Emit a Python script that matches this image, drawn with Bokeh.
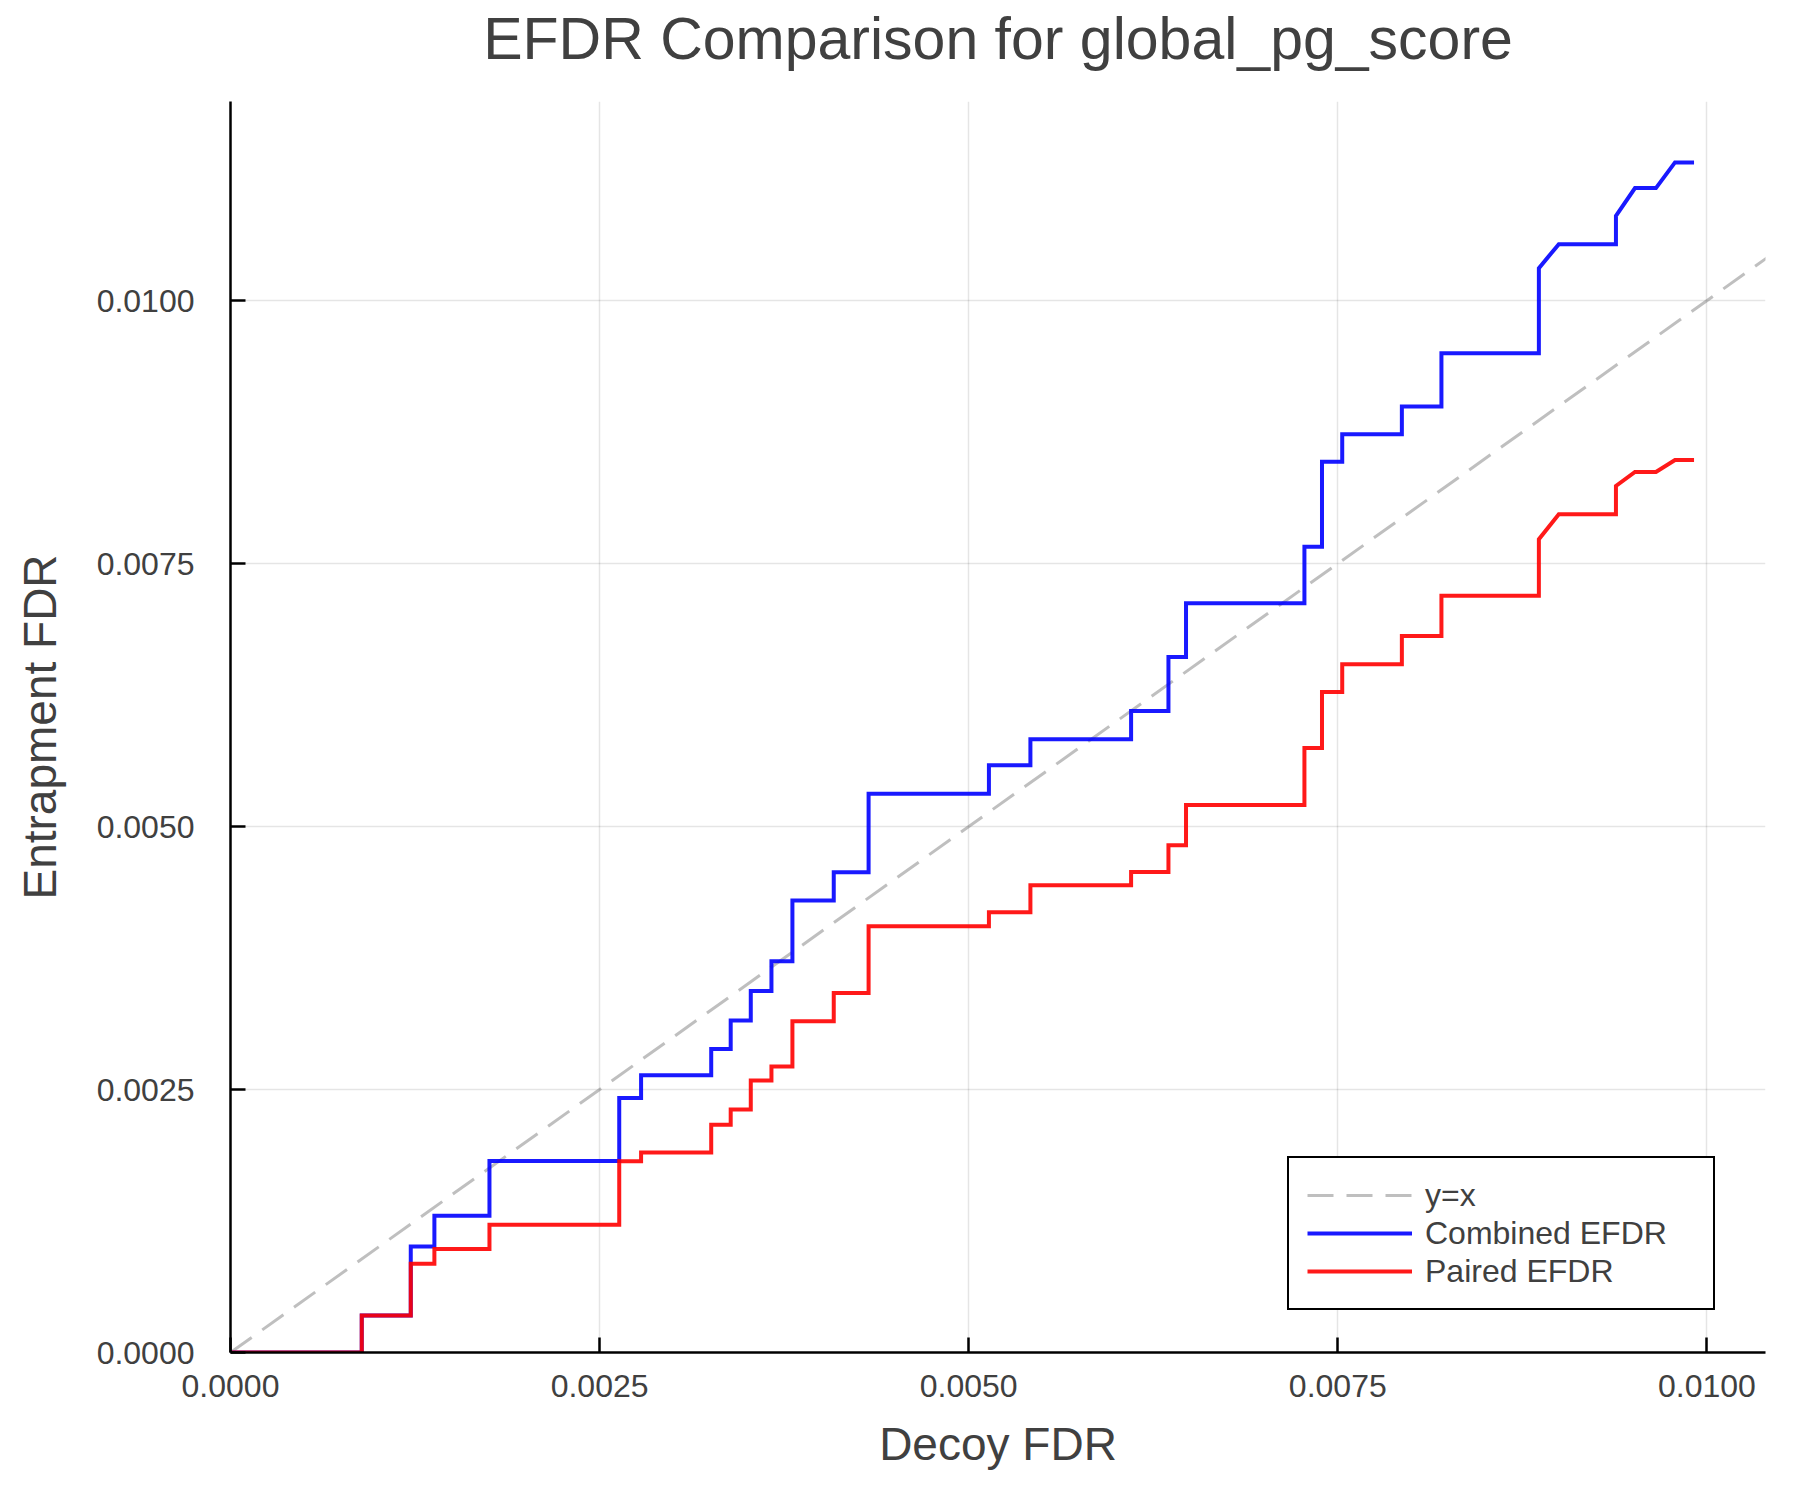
from bokeh.plotting import figure
from bokeh.models import Range1d, FixedTicker, LinearAxis
from bokeh.embed import file_html
from bokeh.resources import INLINE

# ---- data ----
decoy_fdr = [0.0, 0.000889, 0.000889, 0.001221, 0.001221, 0.001381, 0.001381, 0.001754, 0.001754,
             0.002633, 0.002633, 0.002781, 0.002781, 0.003256, 0.003256, 0.003388, 0.003388,
             0.003524, 0.003524, 0.003664, 0.003664, 0.003806, 0.003806, 0.004086, 0.004086,
             0.004322, 0.004322, 0.005137, 0.005137, 0.005418, 0.005418, 0.006100, 0.006100,
             0.006353, 0.006353, 0.006472, 0.006472, 0.007274, 0.007274, 0.007393, 0.007393,
             0.007530, 0.007530, 0.007934, 0.007934, 0.008202, 0.008202, 0.008862, 0.008862,
             0.008997, 0.009384, 0.009384, 0.009513, 0.009655, 0.009784, 0.009913]
combined_efdr = [0.0, 0.0, 0.000352, 0.000352, 0.001008, 0.001008, 0.001300, 0.001300, 0.001820,
                 0.001820, 0.002419, 0.002419, 0.002635, 0.002635, 0.002885, 0.002885, 0.003157,
                 0.003157, 0.003437, 0.003437, 0.003720, 0.003720, 0.004297, 0.004297, 0.004566,
                 0.004566, 0.005311, 0.005311, 0.005582, 0.005582, 0.005831, 0.005831, 0.006098,
                 0.006098, 0.006611, 0.006611, 0.007122, 0.007122, 0.007661, 0.007661, 0.008469,
                 0.008469, 0.008730, 0.008730, 0.008993, 0.008993, 0.009500, 0.009500, 0.010309,
                 0.010537, 0.010537, 0.010806, 0.011070, 0.011070, 0.011314, 0.011314]
paired_efdr = [0.0, 0.0, 0.000352, 0.000352, 0.000844, 0.000844, 0.000983, 0.000983, 0.001215,
               0.001215, 0.001817, 0.001817, 0.001902, 0.001902, 0.002166, 0.002166, 0.002309,
               0.002309, 0.002587, 0.002587, 0.002720, 0.002720, 0.003149, 0.003149, 0.003418,
               0.003418, 0.004053, 0.004053, 0.004186, 0.004186, 0.004442, 0.004442, 0.004569,
               0.004569, 0.004823, 0.004823, 0.005204, 0.005204, 0.005746, 0.005746, 0.006279,
               0.006279, 0.006542, 0.006542, 0.006811, 0.006811, 0.007195, 0.007195, 0.007731,
               0.007969, 0.007969, 0.008238, 0.008371, 0.008371, 0.008485, 0.008485]
identity_line = [0.0, 0.012]

x_ticks = [0.0, 0.0025, 0.005, 0.0075, 0.01]
x_tick_labels = ["0.0000", "0.0025", "0.0050", "0.0075", "0.0100"]
y_ticks = [0.0, 0.0025, 0.005, 0.0075, 0.01]
y_tick_labels = ["0.0000", "0.0025", "0.0050", "0.0075", "0.0100"]

title_text = "EFDR Comparison for global_pg_score"
x_label = "Decoy FDR"
y_label = "Entrapment FDR"

FONT = "Liberation Sans"
TXT = "#404040"

p = figure(
    x_range=Range1d(0.0, 0.010397), y_range=Range1d(0.0, 0.011893),
    frame_width=1535, frame_height=1251,
    min_border_left=230, min_border_right=15, min_border_top=101, min_border_bottom=130,
    output_backend="svg", toolbar_location=None,
)
p.outline_line_color = None
p.background_fill_color = "white"
p.border_fill_color = "white"

xax = p.below[0]
yax = p.left[0]

for ax, ticks, labels, lab in ((xax, x_ticks, x_tick_labels, x_label),
                               (yax, y_ticks, y_tick_labels, y_label)):
    ax.ticker = FixedTicker(ticks=ticks)
    ax.major_label_overrides = {t: l for t, l in zip(ticks, labels)}
    ax.axis_label = lab
    ax.axis_label_text_font = FONT
    ax.axis_label_text_font_size = "46px"
    ax.axis_label_text_font_style = "normal"
    ax.axis_label_text_color = TXT
    ax.major_label_text_font = FONT
    ax.major_label_text_font_size = "32px"
    ax.major_label_text_color = TXT
    ax.axis_line_color = "black"
    ax.axis_line_width = 2.5
    ax.major_tick_line_color = "black"
    ax.major_tick_line_width = 2.5
    ax.major_tick_in = 15
    ax.major_tick_out = 0
    ax.minor_tick_line_color = None

xax.major_label_standoff = 22
xax.axis_label_standoff = 18
yax.major_label_standoff = 36
yax.axis_label_standoff = 28

# chart title, drawn as the label of a bare axis above the frame
title_axis = LinearAxis(
    axis_label=title_text, ticker=FixedTicker(ticks=[]),
    axis_line_color=None, major_tick_line_color=None, minor_tick_line_color=None,
    major_tick_in=0, major_tick_out=0, minor_tick_in=0, minor_tick_out=0,
    major_label_standoff=0, axis_label_standoff=30,
    axis_label_text_font=FONT, axis_label_text_font_size="59px",
    axis_label_text_font_style="normal", axis_label_text_color=TXT,
)
p.add_layout(title_axis, "above")

p.xgrid.ticker = FixedTicker(ticks=x_ticks)
p.ygrid.ticker = FixedTicker(ticks=y_ticks)
for g in (p.xgrid[0], p.ygrid[0]):
    g.grid_line_color = "black"
    g.grid_line_alpha = 0.1
    g.grid_line_width = 1.5

p.line(identity_line, identity_line, line_color="#808080", line_alpha=0.5, line_width=3,
       line_dash="26 13", legend_label="y=x")
p.line(decoy_fdr, combined_efdr, line_color="#0000ff", line_alpha=0.9, line_width=4,
       line_join="miter", legend_label="Combined EFDR")
p.line(decoy_fdr, paired_efdr, line_color="#ff0000", line_alpha=0.9, line_width=4,
       line_join="miter", legend_label="Paired EFDR")

lg = p.legend[0]
lg.location = (1057, 42)
lg.margin = 0
lg.padding = 18
lg.spacing = 0
lg.glyph_width = 105
lg.glyph_height = 38
lg.label_height = 38
lg.label_width = 270
lg.label_standoff = 13
lg.label_text_font = FONT
lg.label_text_font_size = "32px"
lg.label_text_color = TXT
lg.border_line_color = "black"
lg.border_line_width = 2.5
lg.border_line_alpha = 1.0
lg.background_fill_color = "white"
lg.background_fill_alpha = 1.0

open("out.html", "w").write(file_html(p, INLINE))
